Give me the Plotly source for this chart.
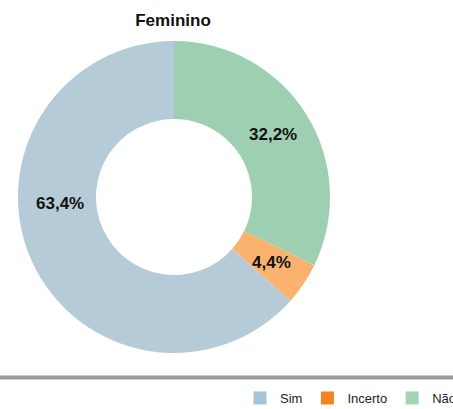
import plotly.graph_objects as go
import math

title = "Feminino"
categories = ["Não", "Incerto", "Sim"]
values = [32.2, 4.4, 63.4]
value_labels = ["32,2%", "4,4%", "63,4%"]
slice_colors = ["#9fcfb2", "#f9b36f", "#b6cbd8"]

legend_order = ["Sim", "Incerto", "Não"]
legend_colors = {"Sim": "#a7c4d6", "Incerto": "#f5821f", "Não": "#a3d4b5"}

W, H = 453, 409
cx, cy, R = 174, 197, 156
HOLE = 0.5

fig = go.Figure()
fig.add_trace(go.Pie(
    labels=categories, values=values, textinfo="none",
    marker=dict(colors=slice_colors, line=dict(width=0)),
    hole=HOLE, sort=False, direction="clockwise", rotation=0,
    domain=dict(x=[(cx - R) / W, (cx + R) / W], y=[1 - (cy + R) / H, 1 - (cy - R) / H]),
    showlegend=False, hoverinfo="label+percent",
))

# value labels placed at each slice's mid-angle on the ring's mid radius
annotations = []
total = sum(values)
cum = 0.0
label_font = dict(family="Liberation Sans", size=17, color="#111111", weight="bold")
r_mid = R * (1 + HOLE) / 2
for v, lab in zip(values, value_labels):
    mid = (cum + v / 2) / total * 2 * math.pi
    cum += v
    px, py = cx + r_mid * math.sin(mid), cy - r_mid * math.cos(mid)
    annotations.append((lab, px, py))
# the large slice's label sits on the left side of the ring in the reference
annotations[2] = (value_labels[2], cx - r_mid + 3, cy + 6)

ann = [dict(text=t, xref="paper", yref="paper", x=px / W, y=1 - py / H,
            xanchor="center", yanchor="middle",
            showarrow=False, font=label_font) for t, px, py in annotations]

# legend-only traces
for name in legend_order:
    fig.add_trace(go.Scatter(
        x=[None], y=[None], mode="markers", name=name,
        marker=dict(symbol="square", size=13, color=legend_colors[name]),
        showlegend=True,
    ))

fig.update_layout(
    width=W, height=H,
    margin=dict(l=0, r=0, t=0, b=0, autoexpand=False),
    paper_bgcolor="white", plot_bgcolor="white",
    xaxis=dict(visible=False), yaxis=dict(visible=False),
    title=dict(text=title, x=173 / W, xanchor="center", y=1 - 20 / H, yanchor="middle",
               font=dict(family="Liberation Sans", size=17, color="#111111", weight="bold")),
    legend=dict(orientation="h", x=240 / W, xanchor="left", y=1 - 398 / H, yanchor="middle",
                font=dict(family="Liberation Sans", size=13, color="#222222"),
                itemwidth=30, tracegroupgap=0, bgcolor="rgba(0,0,0,0)"),
    shapes=[dict(type="line", xref="paper", yref="paper", x0=0, x1=1,
                 y0=1 - 377.5 / H, y1=1 - 377.5 / H, line=dict(color="#999999", width=4))],
    annotations=ann,
)

fig.write_html("out.html", config={"displayModeBar": False},
               post_script="document.body.style.margin='0';document.body.style.overflow='hidden';")
